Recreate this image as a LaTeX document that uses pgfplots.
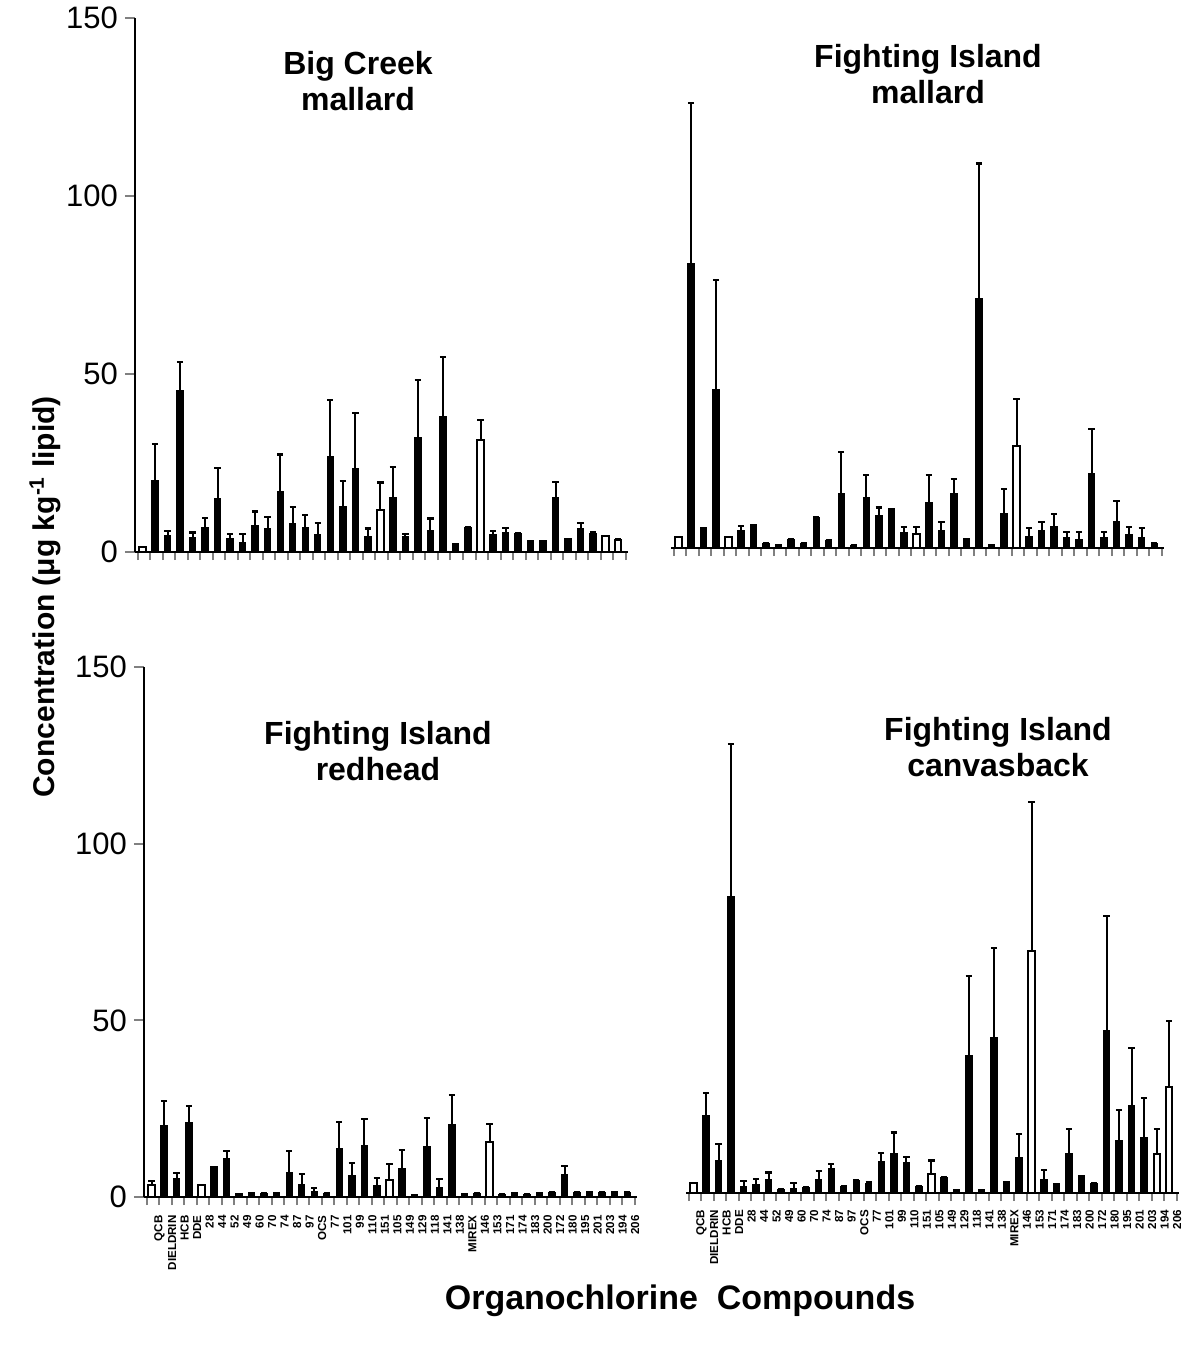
\documentclass[border=0pt]{standalone}
\usepackage{fontspec}
\setmainfont{Liberation Sans}
\usepackage{pgfplots}
\usepackage{pgfplotstable}
\pgfplotsset{compat=1.18}

% one row per compound; y = mean, e = error above the bar
% a = Big Creek mallard, b = FI mallard, c = FI redhead, d = FI canvasback
\pgfplotstableread{
i  ay   ae   by   be   cy   ce   dy   de
1  1.5  0    3    0    3.3  1.2  2.8  0
2  20   10.4 79.8 45.2 20.2 7    21.8 6.4
3  4.5  1.5  4.9  0.6  5.2  1.7  9.2  4.7
4  45.5 7.9  44.4 30.9 21.1 4.7  84   43
5  4    1.5  3    0.2  3.3  0    1.9  1.4
6  7    2.6  4.9  1.2  8.6  0    2.3  1.6
7  15   8.6  6.3  0    10.8 2.2  3.8  2
8  3.7  1.3  1.4  0    0.9  0    1.1  0
9  2.8  2.2  0.8  0    1.1  0    1.4  1.4
10 7.5  3.9  2.5  0    1.1  0    1.6  0
11 6.7  3.1  1.4  0    1.1  0    3.8  2.5
12 16.9 10.5 8.6  0.2  7    6.1  6.8  1.4
13 8    4.6  2.2  0    3.6  3    1.9  0
14 7    3.3  15.2 11.7 1.7  0.8  3.6  0
15 5    3.1  0.8  0    1.1  0    2.8  0.2
16 26.9 15.7 14.2 6.3  13.6 7.7  8.9  2.4
17 12.8 7.1  9.1  2.3  6.1  3.5  11.3 5.8
18 23.4 15.7 10.5 0.3  14.6 7.5  8.5  1.8
19 4.4  2.2  4.4  1.4  3.3  2.1  1.9  0
20 11.8 7.7  3.9  1.9  4.9  4.4  5.4  3.8
21 15.3 8.6  12.9 7.5  8.2  5.1  4.5  0
22 4.4  0.7  4.9  2.5  0.5  0    0.9  0
23 32.3 16   15.4 4    14.3 8.1  38.9 22.5
24 6.1  3.3  2.1  0.5  2.7  2.5  0.9  0
25 38.1 16.7 70   38   20.4 8.4  44   25.3
26 2.3  0    0.7  0    0.7  0    2.6  0.5
27 6.8  0.3  9.6  7    1.1  0    10.1 6.6
28 31.6 5.4  28.7 13.2 15.7 4.9  68.4 42.3
29 5    0.9  3.2  2.4  0.7  0    3.8  2.8
30 5.6  1.1  4.9  2.3  1.1  0    2.6  0
31 5.3  0    6    3.6  0.7  0    11.1 7
32 3.1  0    3    1.4  1.1  0    4    0.7
33 3.1  0    2.5  1.9  1.4  0    2.8  0
34 15.4 4.3  21   12.4 6.3  2.5  45.9 32.4
35 3.7  0    3    1.4  1.4  0    14.8 8.7
36 6.5  1.6  7.5  5.8  1.4  0    24.7 16.4
37 5.3  0.3  3.9  2.1  1.4  0    15.8 11.2
38 4.4  0    3    2.6  1.4  0    11.1 7
39 3.5  0    1.3  0    1.4  0    29.9 18.7
}\data

\pgfplotsset{
  panel/.style={
    scale only axis, width=246.3pt,
    xmin=0.4, xmax=39.75, ymin=0, ymax=150,
    axis x line*=bottom,
    axis line style={line width=1.2pt},
    xtick={1,...,39}, major x tick style={draw=none},
    minor xtick={0.6,1.6,...,39.6},
    minor tick length=4pt,
    minor x tick style={line width=1pt},
    tick align=outside,
    xticklabels={},
    /pgf/number format/assume math mode=true,
    yticklabel style={font=\fontsize{15.5}{16}\selectfont},
    xticklabel style={font=\fontsize{5.8}{6}\selectfont\bfseries, rotate=90, anchor=east,
      inner sep=1pt, xshift=-3pt, yshift=-4pt},
    clip=false,
  },
  leftpanel/.style={panel, axis y line*=left, ytick={0,50,100,150},
    major y tick style={line width=1pt}, major tick length=5pt},
  rightpanel/.style={panel, axis y line=none},
  labelled/.style={xticklabels={QCB,DIELDRIN,HCB,DDE,28,44,52,49,60,70,74,87,97,OCS,77,101,99,110,151,105,149,129,118,141,138,MIREX,146,153,171,174,183,200,172,180,195,201,203,194,206}},
  filled/.style={ybar, bar shift=0pt, bar width=3.2pt, fill=black, draw=black, line width=0.5pt,
    error bars/.cd, y dir=plus, y explicit,
    error bar style={line width=1pt},
    error mark options={rotate=90, line width=1.1pt, mark size=1.6pt}},
  open/.style={ybar, bar shift=0pt, bar width=3.2pt, fill=white, draw=black, line width=1pt},
}

\begin{document}
\begin{tikzpicture}
\useasboundingbox (0,0) rectangle (591.5pt,-674.5pt);

% Big Creek mallard
\begin{axis}[leftpanel, height=267pt, at={(67.5pt,-276pt)}, anchor=south west]
\addplot[filled] table[x=i, y=ay, y error=ae] {\data};
\addplot[open] coordinates {(1,1.5) (20,11.8) (28,31.6) (38,4.4) (39,3.5)};
\end{axis}

% Fighting Island mallard
\begin{axis}[rightpanel, height=267pt, at={(335.5pt,-274pt)}, anchor=south west]
\addplot[filled] table[x=i, y=by, y error=be] {\data};
\addplot[open] coordinates {(1,3) (5,3) (20,3.9) (28,28.7)};
\end{axis}

% Fighting Island redhead
\begin{axis}[leftpanel, labelled, height=265pt, at={(72pt,-598.5pt)}, anchor=south west]
\addplot[filled] table[x=i, y=cy, y error=ce] {\data};
\addplot[open] coordinates {(1,3.3) (5,3.3) (20,4.9) (28,15.7)};
\end{axis}

% Fighting Island canvasback
\begin{axis}[rightpanel, labelled, height=265pt, at={(343pt,-596.5pt)}, anchor=south west]
\addplot[filled] table[x=i, y=dy, y error=de] {\data};
\addplot[open] coordinates {(1,2.8) (20,5.4) (28,68.4) (38,11.1) (39,29.9)};
\end{axis}

\begin{scope}[every node/.style={align=center, font=\fontsize{16}{18}\selectfont\bfseries}]
\node at (179pt,-40.5pt) {Big Creek\\mallard};
\node at (464pt,-37.25pt) {Fighting Island\\mallard};
\node at (189pt,-375.75pt) {Fighting Island\\redhead};
\node at (499pt,-373.5pt) {Fighting Island\\canvasback};
\end{scope}

\node[rotate=90, font=\fontsize{15}{16}\selectfont\bfseries] at (22.5pt,-298.5pt)
  {Concentration (μg kg\textsuperscript{-1} lipid)};
\node[font=\fontsize{17}{18}\selectfont\bfseries] at (340pt,-650.5pt)
  {Organochlorine~~Compounds};
\end{tikzpicture}
\end{document}
